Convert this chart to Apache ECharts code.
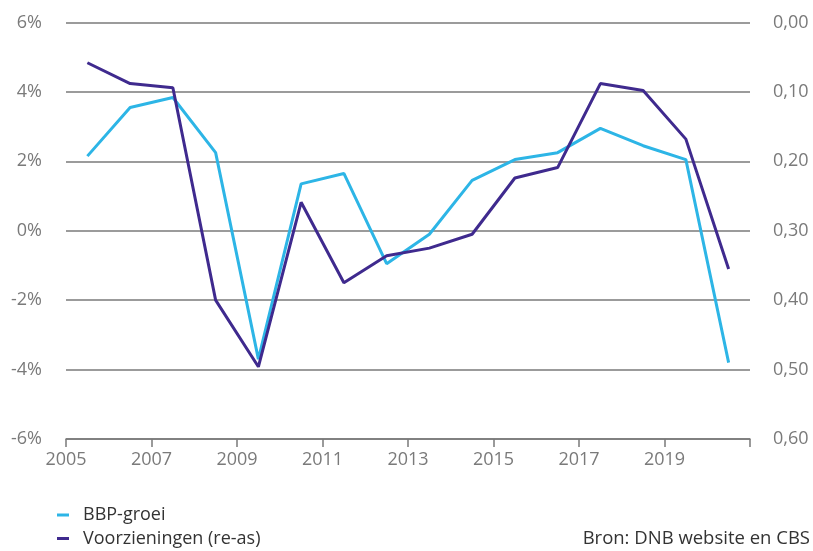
<!DOCTYPE html>
<html>
<head>
<meta charset="utf-8">
<script src="https://cdn.jsdelivr.net/npm/echarts@6/dist/echarts.min.js"></script>
<style>
  html, body { margin: 0; padding: 0; background: #fff; }
  #chart { width: 813px; height: 551px; }
</style>
</head>
<body>
<div id="chart"></div>
<script>
// Jaren (waarden staan midden in het jaar)
const years = [2005, 2006, 2007, 2008, 2009, 2010, 2011, 2012, 2013, 2014, 2015, 2016, 2017, 2018, 2019, 2020];
// BBP-groei in procenten (linkeras)
const bbpGroei = [2.15, 3.55, 3.84, 2.25, -3.7, 1.35, 1.65, -0.95, -0.1, 1.45, 2.05, 2.25, 2.95, 2.45, 2.05, -3.8];
// Voorzieningen (rechteras, omgekeerd)
const voorzieningen = [0.058, 0.088, 0.094, 0.400, 0.496, 0.259, 0.375, 0.336, 0.325, 0.305, 0.224, 0.209, 0.088, 0.098, 0.168, 0.355];
// Aslabels
const leftTicks = { min: -6, max: 6, step: 2 };
const rightTicks = { min: 0, max: 0.6, step: 0.1 };
const xLabelYears = [2005, 2007, 2009, 2011, 2013, 2015, 2017, 2019];
const seriesNames = ['BBP-groei', 'Voorzieningen (re-as)'];

const blue = '#2db5e6';
const purple = '#3f2a8e';
const grey = '#7a7a7a';
const font = 'Open Sans';

const chart = echarts.init(document.getElementById('chart'), null, { renderer: 'canvas' });

const legendBase = {
  orient: 'vertical',
  left: 52,
  itemWidth: 12,
  itemHeight: 3,
  icon: 'rect',
  textStyle: { fontFamily: font, fontSize: 18, color: '#333', padding: [0, 0, 0, 9] }
};

chart.setOption({
  animation: false,
  textStyle: { fontFamily: font },
  grid: { left: 66, right: 63, top: 22.5, bottom: 112 },
  legend: [
    Object.assign({}, legendBase, { top: 501, data: [seriesNames[0]] }),
    Object.assign({}, legendBase, { top: 524.5, data: [seriesNames[1]] })
  ],
  graphic: [{
    type: 'text',
    right: 3,
    top: 529,
    style: { text: 'Bron: DNB website en CBS', fontFamily: font, fontSize: 18.5, fill: '#333' }
  }],
  xAxis: {
    type: 'value',
    min: 2005,
    max: 2021,
    interval: 2,
    splitLine: { show: false },
    axisLine: { show: true, onZero: false, lineStyle: { color: grey, width: 1.5 } },
    axisTick: { show: true, length: 8, lineStyle: { color: grey, width: 1.5 } },
    axisLabel: {
      color: grey, fontSize: 18, margin: 12,
      formatter: v => xLabelYears.includes(v) ? String(v) : ''
    }
  },
  yAxis: [{
    type: 'value',
    min: leftTicks.min,
    max: leftTicks.max,
    interval: leftTicks.step,
    axisLine: { show: false },
    axisTick: { show: false },
    splitLine: { lineStyle: { color: grey, width: 1.5 } },
    axisLabel: { color: grey, fontSize: 18, margin: 24, formatter: v => v + '%' }
  }, {
    type: 'value',
    inverse: true,
    min: rightTicks.min,
    max: rightTicks.max,
    interval: rightTicks.step,
    axisLine: { show: false },
    axisTick: { show: false },
    splitLine: { show: false },
    axisLabel: {
      color: grey, fontSize: 18, margin: 23,
      formatter: v => v.toFixed(2).replace('.', ',')
    }
  }],
  series: [{
    name: seriesNames[0],
    type: 'line',
    yAxisIndex: 0,
    symbol: 'none',
    color: blue,
    lineStyle: { color: blue, width: 3 },
    data: years.map((y, i) => [y + 0.5, bbpGroei[i]])
  }, {
    name: seriesNames[1],
    type: 'line',
    yAxisIndex: 1,
    symbol: 'none',
    color: purple,
    lineStyle: { color: purple, width: 3 },
    data: years.map((y, i) => [y + 0.5, voorzieningen[i]])
  }]
});
</script>
</body>
</html>
